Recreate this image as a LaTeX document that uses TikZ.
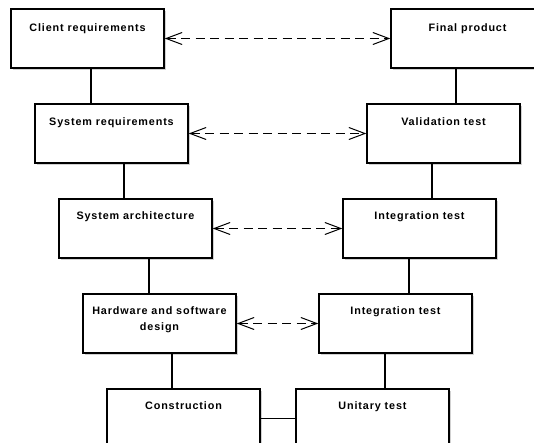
\documentclass[tikz,border=0pt]{standalone}
\usepackage{fontspec}
\setmainfont{Liberation Sans}[LetterSpace=8]
\usetikzlibrary{arrows.meta,shadows}
\begin{document}
\begin{tikzpicture}[x=1pt,y=-1pt,
  box/.style={draw=black, line width=1.4pt, fill=white, inner sep=0pt,
    minimum width=153pt, minimum height=59pt,
    general shadow={fill=black!18, shadow xshift=2pt, shadow yshift=-2pt}},
  lbl/.style={anchor=base, inner sep=0pt, font=\fontsize{10.8}{16}\selectfont\bfseries},
  lbltwo/.style={anchor=north, inner sep=0pt, align=center, font=\fontsize{10.8}{16}\selectfont\bfseries},
  link/.style={line width=1.4pt},
  barb/.tip={Straight Barb[length=16pt,width=12pt,line width=1pt]},
  trace/.style={line width=1.6pt, dash pattern=on 9pt off 5.5pt, barb-barb}
]
\useasboundingbox (0,0) rectangle (534,443);
\clip (0,0) rectangle (534,443);
\fill[white] (0,0) rectangle (534,443);

% left branch: specification
\node[box] (cr) at (87.5,38.5) {};
\node[box] (sr) at (111.5,133.5) {};
\node[box] (sa) at (135.5,228.5) {};
\node[box] (hw) at (159.5,323.5) {};
\node[box] (co) at (183.5,418.5) {};

% right branch: verification
\node[box] (fp) at (467.5,38.5) {};
\node[box] (va) at (443.5,133.5) {};
\node[box] (i1) at (419.5,228.5) {};
\node[box] (i2) at (395.5,323.5) {};
\node[box] (ut) at (372.5,418.5) {};

% titles
\node[lbl] (crt) at ([yshift=-23pt]cr.north) {Client requirements};
\node[lbl] (srt) at ([yshift=-22pt]sr.north) {System requirements};
\node[lbl] (sat) at ([yshift=-21.5pt]sa.north) {System architecture};
\node[lbltwo] (hwt) at ([yshift=-13pt]hw.north) {Hardware and software\\design};
\node[lbl] (cot) at ([yshift=-21.5pt]co.north) {Construction};
\node[lbl] (fpt) at ([yshift=-23pt]fp.north) {Final product};
\node[lbl] (vat) at ([yshift=-22pt]va.north) {Validation test};
\node[lbl] (i1t) at ([yshift=-21.5pt]i1.north) {Integration test};
\node[lbl] (i2t) at ([yshift=-21.5pt]i2.north) {Integration test};
\node[lbl] (utt) at ([yshift=-21.5pt]ut.north) {Unitary test};

% chain links
\draw[link] ([xshift=3.5pt]cr.south) -- ([xshift=3.5pt]cr.south |- sr.north);
\draw[link] ([xshift=12.5pt]sr.south) -- ([xshift=12.5pt]sr.south |- sa.north);
\draw[link] ([xshift=13.5pt]sa.south) -- ([xshift=13.5pt]sa.south |- hw.north);
\draw[link] ([xshift=12.5pt]hw.south) -- ([xshift=12.5pt]hw.south |- co.north);
\draw[link] ([xshift=-11.5pt]fp.south) -- ([xshift=-11.5pt]fp.south |- va.north);
\draw[link] ([xshift=-11.5pt]va.south) -- ([xshift=-11.5pt]va.south |- i1.north);
\draw[link] ([xshift=-10.5pt]i1.south) -- ([xshift=-10.5pt]i1.south |- i2.north);
\draw[link] ([xshift=-10.5pt]i2.south) -- ([xshift=-10.5pt]i2.south |- ut.north);
\draw[link] (co.east) -- (ut.west);

% traceability between levels
\draw[trace] (cr.east) -- (fp.west);
\draw[trace] (sr.east) -- (va.west);
\draw[trace] (sa.east) -- (i1.west);
\draw[trace] (hw.east) -- (i2.west);
\end{tikzpicture}
\end{document}
